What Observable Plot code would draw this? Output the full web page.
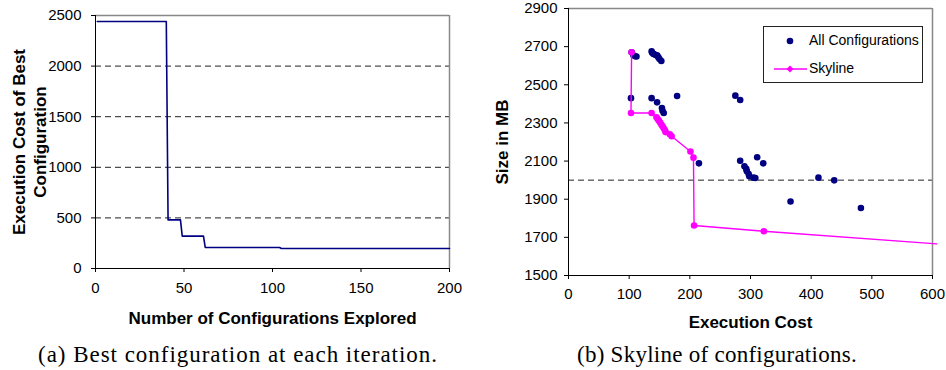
<!DOCTYPE html>
<html><head><meta charset="utf-8">
<script src="https://cdn.jsdelivr.net/npm/d3@7"></script>
<script src="https://cdn.jsdelivr.net/npm/@observablehq/plot@0.6"></script>
<style>
body{margin:0;background:#fff;}
#wrap{position:relative;width:946px;height:370px;overflow:hidden;background:#fff;}
#wrap svg{position:absolute;top:0;}
.cap{position:absolute;font-family:"Liberation Serif","DejaVu Serif",serif;font-size:23px;white-space:nowrap;color:#000;line-height:1;}
#legend{position:absolute;left:763px;top:26px;width:158px;height:55px;border:1px solid #222;background:#fff;font-family:"Liberation Sans",Arial,sans-serif;font-size:14px;}
#legend .t{position:absolute;left:45px;line-height:1;}
</style></head><body><div id="wrap"></div>
<script>
// (a) best configuration at each iteration
const iterations = [1, 40, 41, 48, 49, 61, 62, 104, 105, 200];
const bestCost   = [2440, 2440, 480, 480, 320, 320, 208, 208, 198, 198];
const iterTicks = [0, 50, 100, 150, 200];
const costTicks = [0, 500, 1000, 1500, 2000, 2500];

// (b) skyline of configurations
const configCost = [103, 104, 107, 110, 112, 137, 138, 140, 143, 146, 148, 150, 153,
  137, 146, 154, 155, 157, 179, 275, 283, 215, 283, 290, 293, 294, 297, 298, 305, 308,
  311, 321, 412, 438, 366, 482];
const configSize = [2430, 2670, 2655, 2650, 2648, 2675, 2668, 2662, 2657, 2655, 2645, 2635, 2625,
  2430, 2408, 2378, 2364, 2352, 2441, 2443, 2420, 2088, 2102, 2073, 2059, 2046, 2032, 2020, 2013, 2011,
  2120, 2088, 2013, 1999, 1888, 1854];
const skylineCost = [104, 103, 137, 145, 147, 149, 151, 153, 155, 157, 159, 160, 167, 170, 201, 206, 207, 322, 607];
const skylineSize = [2670, 2352, 2352, 2330, 2320, 2312, 2302, 2292, 2282, 2272, 2262, 2252, 2240, 2230, 2150, 2118, 1762, 1732, 1666];
const execTicks = [0, 100, 200, 300, 400, 500, 600];
const sizeTicks = [1500, 1700, 1900, 2100, 2300, 2500, 2700, 2900];
const sizeGrid = [2000];

const bestData = iterations.map((x, i) => ({x, y: bestCost[i]}));
const configData = configCost.map((x, i) => ({x, y: configSize[i]}));
const skylineData = skylineCost.map((x, i) => ({x, y: skylineSize[i]}));

const wrap = document.getElementById("wrap");
const font = {fontFamily: "'Liberation Sans', Arial, sans-serif", fontSize: "15px", color: "#000", background: "transparent", overflow: "visible"};
const fmt = d => String(d);

const left = Plot.plot({
  width: 470, height: 335,
  marginLeft: 95, marginRight: 21, marginTop: 15, marginBottom: 67,
  style: font,
  x: {domain: [0, 200], ticks: iterTicks, label: null},
  y: {domain: [0, 2500], ticks: costTicks, label: null},
  marks: [
    Plot.gridY(costTicks.filter(d => d > 0 && d < 2500), {stroke: "#222", strokeOpacity: 1, strokeDasharray: "6,4"}),
    Plot.ruleY([2500], {stroke: "#888", strokeWidth: 1.5}),
    Plot.ruleX([200], {stroke: "#888", strokeWidth: 1.5}),
    Plot.ruleX([0], {stroke: "#000"}),
    Plot.ruleY([0], {stroke: "#000"}),
    Plot.axisX({ticks: iterTicks, tickFormat: fmt, tickSize: 4, tickPadding: 10, label: null, fontSize: 15}),
    Plot.axisY({ticks: costTicks, tickFormat: fmt, tickSize: 4, tickPadding: 10, label: null, fontSize: 15}),
    Plot.line(bestData, {x: "x", y: "y", stroke: "#000080", strokeWidth: 1.6}),
    Plot.text(["Number of Configurations Explored"], {text: d => d, frameAnchor: "bottom", dy: 55, fontSize: 17, fontWeight: "bold"}),
    Plot.text(["Execution Cost of Best\nConfiguration"], {text: d => d, frameAnchor: "left", textAnchor: "middle", lineAnchor: "middle", dx: -67, rotate: -90, fontSize: 17, fontWeight: "bold", lineHeight: 1.22})
  ]
});
left.style.left = "0px";
wrap.appendChild(left);

const right = Plot.plot({
  width: 476, height: 335,
  marginLeft: 98, marginRight: 14, marginTop: 8, marginBottom: 60,
  style: font,
  x: {domain: [0, 600], ticks: execTicks, label: null},
  y: {domain: [1500, 2900], ticks: sizeTicks, label: null},
  marks: [
    Plot.gridY(sizeGrid, {stroke: "#222", strokeOpacity: 1, strokeDasharray: "6,4"}),
    Plot.ruleY([2900], {stroke: "#888", strokeWidth: 1.5}),
    Plot.ruleX([600], {stroke: "#888", strokeWidth: 1.5}),
    Plot.ruleX([0], {stroke: "#000"}),
    Plot.ruleY([1500], {stroke: "#000"}),
    Plot.axisX({ticks: execTicks, tickFormat: fmt, tickSize: 4, tickPadding: 9, label: null, fontSize: 15}),
    Plot.axisY({ticks: sizeTicks, tickFormat: fmt, tickSize: 4, tickPadding: 7, label: null, fontSize: 15}),
    Plot.dot(configData, {x: "x", y: "y", r: 3.3, fill: "#000080", stroke: "none"}),
    Plot.line(skylineData, {x: "x", y: "y", stroke: "#ff00ff", strokeWidth: 1.4}),
    Plot.dot(skylineData.filter(d => d.x <= 600), {x: "x", y: "y", r: 3.3, fill: "#ff00ff", stroke: "none"}),
    Plot.text(["Execution Cost"], {text: d => d, frameAnchor: "bottom", dy: 52, fontSize: 17, fontWeight: "bold"}),
    Plot.text(["Size in MB"], {text: d => d, frameAnchor: "left", textAnchor: "middle", lineAnchor: "middle", dx: -66, rotate: -90, fontSize: 17, fontWeight: "bold"})
  ]
});
right.style.left = "470px";
wrap.appendChild(right);

// legend
const legend = document.createElement("div");
legend.id = "legend";
legend.innerHTML = `
<svg width="158" height="55" style="position:absolute;left:0;top:0">
  <circle cx="26" cy="14" r="3.3" fill="#000080"/>
  <line x1="10" y1="42" x2="43" y2="42" stroke="#ff00ff" stroke-width="1.6"/>
  <path d="M26 38.5 L29.5 42 L26 45.5 L22.5 42 Z" fill="#ff00ff"/>
</svg>
<div class="t" style="top:6px">All Configurations</div>
<div class="t" style="top:34px">Skyline</div>`;
wrap.appendChild(legend);

// captions
const capA = document.createElement("div");
capA.className = "cap"; capA.textContent = "(a) Best configuration at each iteration.";
capA.style.left = "38px"; capA.style.top = "343px";
wrap.appendChild(capA);
const capB = document.createElement("div");
capB.className = "cap"; capB.textContent = "(b) Skyline of configurations.";
capB.style.left = "577px"; capB.style.top = "343px";
wrap.appendChild(capB);
// fit caption widths to the reference
[[capA, 400], [capB, 280]].forEach(([el, w]) => {
  const cur = el.getBoundingClientRect().width;
  const n = el.textContent.length;
  el.style.letterSpacing = ((w - cur) / n).toFixed(2) + "px";
});
</script></body></html>
